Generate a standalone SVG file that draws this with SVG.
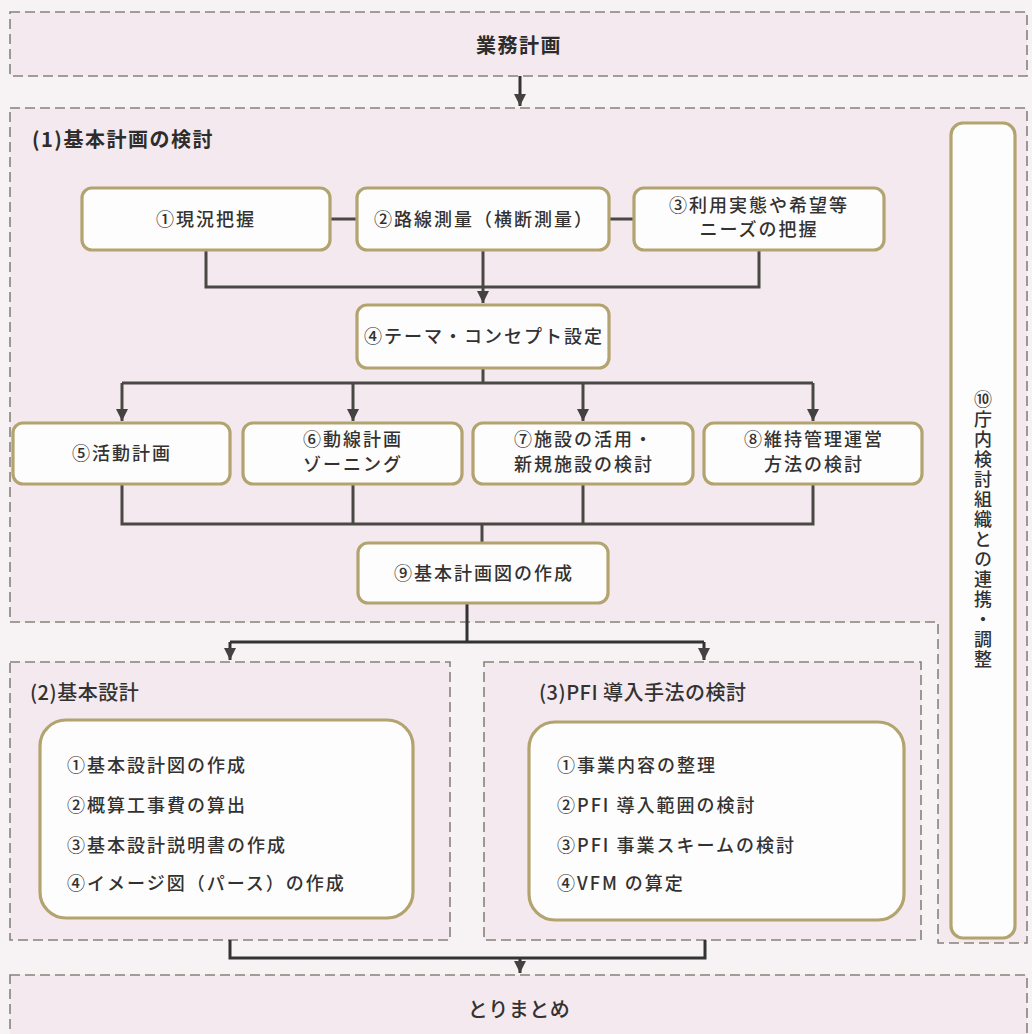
<svg xmlns="http://www.w3.org/2000/svg" width="1032" height="1034" viewBox="0 0 1032 1034">
<defs>
<marker id="arr" markerUnits="userSpaceOnUse" markerWidth="14" markerHeight="14" viewBox="0 0 14 14" refX="13" refY="7" orient="auto">
<path d="M1,1 L13,7 L1,13 Z" fill="#444240"/>
</marker>
<style>
.region{fill:#f3e9ee;stroke:#85837a;stroke-width:1.6;stroke-dasharray:10 5}
.node{fill:#fefdfd;stroke:#b3a36f;stroke-width:3.2}
.con{fill:none;stroke:#4a4844;stroke-width:3}
.con2{fill:none;stroke:#333333;stroke-width:3}
.t{font-family:"Noto Sans CJK JP","Noto Sans",sans-serif;fill:#333231;font-size:18px;font-weight:500;letter-spacing:2px}
.c{text-anchor:middle}
.h{font-family:"Noto Sans CJK JP","Noto Sans",sans-serif;fill:#2e2d2c;font-size:20px;font-weight:bold;letter-spacing:1.5px}
.h2{font-family:"Noto Sans CJK JP","Noto Sans",sans-serif;fill:#333231;font-size:20px;font-weight:500;letter-spacing:0.5px}
</style>
</defs>
<rect x="0" y="0" width="1032" height="1034" fill="#f7f3f5"/>

<g id="regions">
<g id="gyomu">
<rect class="region" x="10" y="12" width="1017" height="64"/>
<text class="h c" x="519" y="53" font-size="22">業務計画</text>
</g>
<g id="sec1">
<path class="region" d="M10,108 H1027 V943 H938 V622 H10 Z"/>
<text class="h" x="32" y="147">(1)基本計画の検討</text>
</g>
<g id="sec2">
<rect class="region" x="10" y="662" width="440" height="278"/>
<text class="h2" x="30" y="700">(2)基本設計</text>
</g>
<g id="sec3">
<rect class="region" x="484" y="662" width="437" height="278"/>
<text class="h2" x="539" y="700">(3)PFI 導入手法の検討</text>
</g>
<g id="torimatome">
<rect class="region" x="10" y="975" width="1017" height="90"/>
<text class="h2 c" x="519" y="1017">とりまとめ</text>
</g>
</g>

<g id="connectors">
<path class="con2" d="M520,76 V106" marker-end="url(#arr)"/>
<path class="con" d="M330,219 H357 M609,219 H634"/>
<path class="con" d="M206,250 V287 H759 V250"/>
<path class="con" d="M483,250 V303" marker-end="url(#arr)"/>
<path class="con" d="M483,368 V383 M122,383 H813"/>
<path class="con" d="M122,383 V421" marker-end="url(#arr)"/>
<path class="con" d="M353,383 V421" marker-end="url(#arr)"/>
<path class="con" d="M583,383 V421" marker-end="url(#arr)"/>
<path class="con" d="M813,383 V421" marker-end="url(#arr)"/>
<path class="con" d="M122,484 V524 H813 V484 M353,484 V524 M583,484 V524"/>
<path class="con" d="M482,524 V543"/>
<path class="con2" d="M467,603 V642 M230,642 H704"/>
<path class="con2" d="M230,642 V660" marker-end="url(#arr)"/>
<path class="con2" d="M704,642 V660" marker-end="url(#arr)"/>
<path class="con2" d="M230,940 V958 H705 V940"/>
<path class="con2" d="M520,958 V973" marker-end="url(#arr)"/>
</g>

<g id="n1">
<rect class="node" x="82" y="188" width="248" height="62" rx="10"/>
<text class="t c" x="206" y="226">①現況把握</text>
</g>
<g id="n2">
<rect class="node" x="357" y="188" width="252" height="62" rx="10"/>
<text class="t c" x="484" y="226">②路線測量（横断測量）</text>
</g>
<g id="n3">
<rect class="node" x="634" y="188" width="250" height="62" rx="10"/>
<text class="t c" x="759" y="212">③利用実態や希望等</text>
<text class="t c" x="759" y="236">ニーズの把握</text>
</g>
<g id="n4">
<rect class="node" x="357" y="305" width="252" height="63" rx="10"/>
<text class="t c" x="484" y="343">④テーマ・コンセプト設定</text>
</g>
<g id="n5">
<rect class="node" x="13" y="423" width="217" height="61" rx="10"/>
<text class="t c" x="122" y="460">⑤活動計画</text>
</g>
<g id="n6">
<rect class="node" x="243" y="423" width="219" height="61" rx="10"/>
<text class="t c" x="353" y="446">⑥動線計画</text>
<text class="t c" x="353" y="471">ゾーニング</text>
</g>
<g id="n7">
<rect class="node" x="473" y="423" width="220" height="61" rx="10"/>
<text class="t c" x="584" y="446">⑦施設の活用・</text>
<text class="t c" x="584" y="471">新規施設の検討</text>
</g>
<g id="n8">
<rect class="node" x="704" y="423" width="218" height="61" rx="10"/>
<text class="t c" x="814" y="446">⑧維持管理運営</text>
<text class="t c" x="814" y="471">方法の検討</text>
</g>
<g id="n9">
<rect class="node" x="358" y="543" width="250" height="60" rx="10"/>
<text class="t c" x="484" y="580">⑨基本計画図の作成</text>
</g>
<g id="n10">
<rect class="node" x="951" y="123" width="64" height="815" rx="12"/>
<text class="t c" x="983" y="530" style="writing-mode:vertical-rl" font-size="19">⑩庁内検討組織との連携・調整</text>
</g>
<g id="n11">
<rect class="node" x="40" y="720" width="373" height="198" rx="26"/>
<text class="t" x="67" y="772">①基本設計図の作成</text>
<text class="t" x="67" y="812">②概算工事費の算出</text>
<text class="t" x="67" y="852">③基本設計説明書の作成</text>
<text class="t" x="67" y="890">④イメージ図（パース）の作成</text>
</g>
<g id="n12">
<rect class="node" x="529" y="722" width="375" height="198" rx="26"/>
<text class="t" x="557" y="772">①事業内容の整理</text>
<text class="t" x="557" y="812">②PFI 導入範囲の検討</text>
<text class="t" x="557" y="852">③PFI 事業スキームの検討</text>
<text class="t" x="557" y="890">④VFM の算定</text>
</g>
</svg>
